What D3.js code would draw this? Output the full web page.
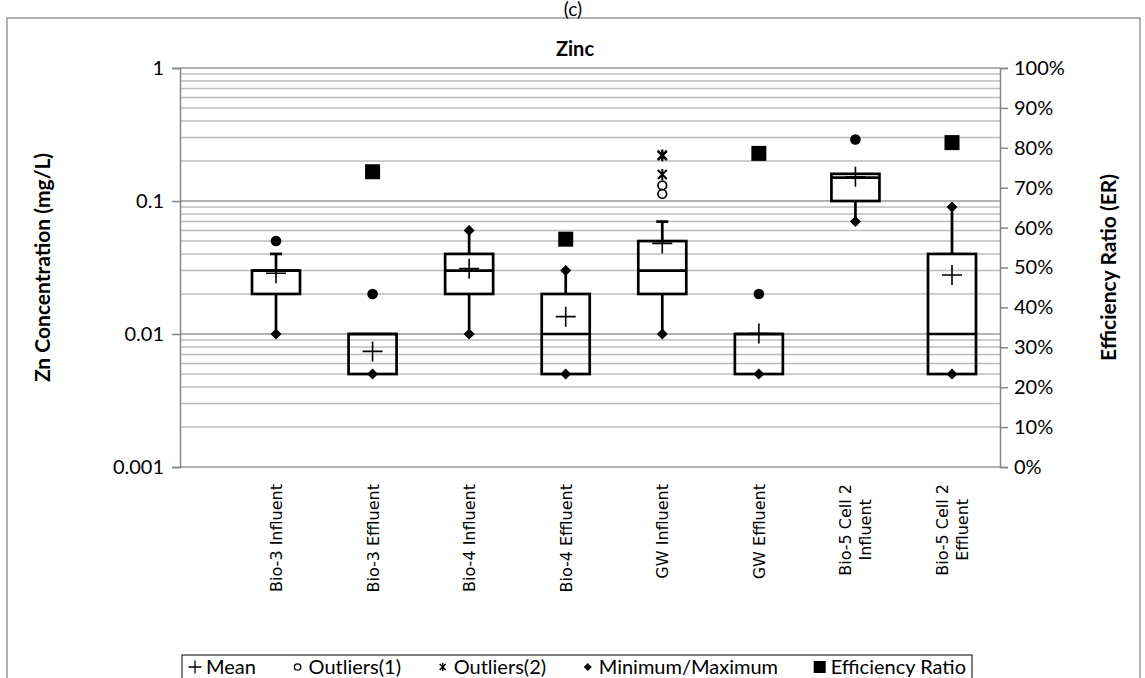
<!DOCTYPE html>
<html>
<head>
<meta charset="utf-8">
<script src="https://cdn.jsdelivr.net/npm/d3@7"></script>
<style>
  html, body { margin: 0; padding: 0; background: #fff; }
  svg { display: block; }
  text { font-family: Lato, "Open Sans", sans-serif; fill: #000; }
</style>
</head>
<body>
<svg id="chart" width="1145" height="678"></svg>
<script>
// ---------- data ----------
const categories = ["Bio-3 Influent", "Bio-3 Effluent", "Bio-4 Influent", "Bio-4 Effluent",
                    "GW Influent", "GW Effluent", "Bio-5 Cell 2 Influent", "Bio-5 Cell 2 Effluent"];
const categoryLines = [["Bio-3 Influent"], ["Bio-3 Effluent"], ["Bio-4 Influent"], ["Bio-4 Effluent"],
                       ["GW Influent"], ["GW Effluent"], ["Bio-5 Cell 2", "Influent"], ["Bio-5 Cell 2", "Effluent"]];
const q1Values      = [0.02, 0.005, 0.02, 0.005, 0.02, 0.005, 0.10, 0.005];
const medianValues  = [0.03, 0.01, 0.03, 0.01, 0.03, 0.01, 0.15, 0.01];
const q3Values      = [0.03, 0.01, 0.04, 0.02, 0.05, 0.01, 0.16, 0.04];
const meanValues    = [0.0286, 0.0074, 0.031, 0.0135, 0.048, 0.0101, 0.152, 0.0278];
const whiskerLow    = [0.01, 0.005, 0.01, 0.005, 0.01, 0.005, 0.07, 0.005];
const whiskerHigh   = [0.04, 0.01, 0.06, 0.03, 0.07, 0.01, 0.16, 0.09];
const capValues     = [[0.04], [], [], [], [0.07], [], [], []];
const minMaxValues  = [[0.01], [0.005], [0.01, 0.06], [0.005, 0.03], [0.01], [0.005], [0.07], [0.005, 0.09]];
const extremeValues = [[0.05], [0.02], [], [], [], [0.02], [0.29], []];   // filled dots
const outliers1     = [[], [], [], [], [0.131, 0.113], [], [], []];
const outliers2     = [[], [], [], [], [0.222, 0.219, 0.158], [], [], []];
const erValues      = [null, 0.74, null, 0.571, null, 0.786, null, 0.813];
const yTickValues   = [0.001, 0.01, 0.1, 1];
const yTickLabels   = ["0.001", "0.01", "0.1", "1"];
const erTickValues  = [0, 0.1, 0.2, 0.3, 0.4, 0.5, 0.6, 0.7, 0.8, 0.9, 1.0];
const legendItems   = ["Mean", "Outliers(1)", "Outliers(2)", "Minimum/Maximum", "Efficiency Ratio"];

// ---------- layout ----------
const svg = d3.select("#chart");
const L = 180, R = 1000, T = 68, B = 467;

const y = d3.scaleLog().domain([0.001, 1]).range([B, T]);
const yER = d3.scaleLinear().domain([0, 1]).range([B, T]);
const x = d3.scalePoint().domain(categories).range([L + 96, R - 48]);

// outer border
svg.append("rect").attr("x", 7).attr("y", 18).attr("width", 1133).attr("height", 700)
  .attr("fill", "none").attr("stroke", "#898989").attr("stroke-width", 1.3);

// (c) label
svg.append("text").attr("x", 573).attr("y", 16).attr("text-anchor", "middle")
  .style("font-size", "19px").text("(c)");

// title
svg.append("text").attr("x", 575).attr("y", 56).attr("text-anchor", "middle")
  .style("font-size", "20px").style("font-weight", "bold").text("Zinc");

// gridlines (log minor & major)
const minorTicks = [];
for (let e = -3; e < 0; e++) for (let m = 2; m <= 9; m++) minorTicks.push(m * Math.pow(10, e));
svg.append("g").selectAll("line.minor").data(minorTicks).join("line")
  .attr("x1", L).attr("x2", R).attr("y1", d => y(d)).attr("y2", d => y(d))
  .attr("stroke", "#bcbcbc").attr("stroke-width", 1.5);
svg.append("g").selectAll("line.major").data(yTickValues).join("line")
  .attr("x1", L).attr("x2", R).attr("y1", d => y(d)).attr("y2", d => y(d))
  .attr("stroke", "#979797").attr("stroke-width", 1.6);

// left axis
const yAxis = d3.axisLeft(y).tickValues(yTickValues).tickFormat((d, i) => yTickLabels[i]).tickSize(8).tickPadding(8);
const gY = svg.append("g").attr("transform", `translate(${L},0)`).call(yAxis);
gY.select(".domain").attr("stroke", "#868686").attr("stroke-width", 1.5);
gY.selectAll(".tick line").attr("stroke", "#868686").attr("stroke-width", 1.5);
gY.selectAll(".tick text").style("font-size", "20px").style("font-family", "Lato");

// right axis
const erAxis = d3.axisRight(yER).tickValues(erTickValues).tickFormat(d3.format(".0%")).tickSize(8).tickPadding(6);
const gR = svg.append("g").attr("transform", `translate(${R},0)`).call(erAxis);
gR.select(".domain").attr("stroke", "#868686").attr("stroke-width", 1.5);
gR.selectAll(".tick line").attr("stroke", "#868686").attr("stroke-width", 1.5);
gR.selectAll(".tick text").style("font-size", "20px").style("font-family", "Lato");

// axis titles
svg.append("text").attr("transform", `translate(50,${(T + B) / 2}) rotate(-90)`)
  .attr("text-anchor", "middle").style("font-size", "21px").style("font-weight", "bold")
  .text("Zn Concentration (mg/L)");
svg.append("text").attr("transform", `translate(1116,${(T + B) / 2}) rotate(-90)`)
  .attr("text-anchor", "middle").style("font-size", "21px").style("font-weight", "bold")
  .text("Efficiency Ratio (ER)");

// category labels
const labelTop = 484;
categories.forEach((c, i) => {
  const lines = categoryLines[i];
  const g = svg.append("g").attr("transform", `translate(${x(c)},0) rotate(-90)`);
  const lh = 20;
  const texts = lines.map((ln, j) => g.append("text")
      .attr("y", (j - (lines.length - 1) / 2) * lh + 6)
      .style("font-family", "DejaVu Sans").style("font-size", "16px").text(ln));
  const maxLen = d3.max(texts, t => t.node().getComputedTextLength());
  texts.forEach(t => {
    if (lines.length === 1) { t.attr("x", -labelTop).attr("text-anchor", "end"); }
    else { t.attr("x", -(labelTop + maxLen / 2)).attr("text-anchor", "middle"); }
  });
});

// ---------- boxes ----------
const boxW = 48, capW = 12;
const plot = svg.append("g");
categories.forEach((c, i) => {
  const cx = x(c);
  if (whiskerHigh[i] > q3Values[i])
    plot.append("line").attr("x1", cx).attr("x2", cx).attr("y1", y(q3Values[i])).attr("y2", y(whiskerHigh[i]))
      .attr("stroke", "#000").attr("stroke-width", 2.7);
  if (whiskerLow[i] < q1Values[i])
    plot.append("line").attr("x1", cx).attr("x2", cx).attr("y1", y(q1Values[i])).attr("y2", y(whiskerLow[i]))
      .attr("stroke", "#000").attr("stroke-width", 2.7);
  capValues[i].forEach(v => plot.append("line").attr("x1", cx - capW / 2).attr("x2", cx + capW / 2)
      .attr("y1", y(v)).attr("y2", y(v)).attr("stroke", "#000").attr("stroke-width", 2.7));
  plot.append("rect").attr("x", cx - boxW / 2).attr("width", boxW)
    .attr("y", y(q3Values[i])).attr("height", y(q1Values[i]) - y(q3Values[i]))
    .attr("fill", "none").attr("stroke", "#000").attr("stroke-width", 2.7);
  plot.append("line").attr("x1", cx - boxW / 2).attr("x2", cx + boxW / 2)
    .attr("y1", y(medianValues[i])).attr("y2", y(medianValues[i])).attr("stroke", "#000").attr("stroke-width", 2.7);
});

// markers
const plus = (g, cx, cy, s, w) => g.append("path")
  .attr("d", `M${cx - s / 2},${cy}H${cx + s / 2}M${cx},${cy - s / 2}V${cy + s / 2}`)
  .attr("stroke", "#000").attr("stroke-width", w).attr("fill", "none");
const diamond = (g, cx, cy, s) => g.append("path")
  .attr("d", `M${cx},${cy - s / 2}L${cx + s / 2},${cy}L${cx},${cy + s / 2}L${cx - s / 2},${cy}Z`).attr("fill", "#000");
const star = (g, cx, cy, s, w) => g.append("path")
  .attr("d", `M${cx - s / 2},${cy - s / 2}L${cx + s / 2},${cy + s / 2}M${cx + s / 2},${cy - s / 2}L${cx - s / 2},${cy + s / 2}M${cx},${cy - s / 2 - 1}V${cy + s / 2 + 1}`)
  .attr("stroke", "#000").attr("stroke-width", w).attr("fill", "none");

categories.forEach((c, i) => {
  const cx = x(c);
  plus(plot, cx, y(meanValues[i]), 20, 1.6);
  minMaxValues[i].forEach(v => diamond(plot, cx, y(v), 11));
  extremeValues[i].forEach(v => plot.append("circle").attr("cx", cx).attr("cy", y(v)).attr("r", 5.3).attr("fill", "#000"));
  outliers1[i].forEach(v => plot.append("circle").attr("cx", cx).attr("cy", y(v)).attr("r", 4.3)
    .attr("fill", "#fff").attr("stroke", "#000").attr("stroke-width", 1.7));
  outliers2[i].forEach(v => star(plot, cx, y(v), 9, 2));
  if (erValues[i] != null)
    plot.append("rect").attr("x", cx - 7.5).attr("y", yER(erValues[i]) - 7.5).attr("width", 15).attr("height", 15).attr("fill", "#000");
});

// ---------- legend ----------
const lg = svg.append("g");
const legX = 182, legY = 655, legW = 790;
lg.append("rect").attr("x", legX).attr("y", legY).attr("width", legW).attr("height", 40)
  .attr("fill", "#fff").attr("stroke", "#000").attr("stroke-width", 1);
const ly = legY + 12;
const widths = [];
const tmp = legendItems.map(t => lg.append("text").style("font-size", "20px").text(t));
tmp.forEach(t => { widths.push(t.node().getComputedTextLength()); t.remove(); });
const markerW = 14, gapM = 4;
const totalW = d3.sum(widths) + legendItems.length * (markerW + gapM);
const gap = (legW - 12 - totalW) / (legendItems.length - 1);
let cur = legX + 6;
legendItems.forEach((t, i) => {
  const mx = cur + markerW / 2;
  if (i === 0) plus(lg, mx, ly, 13, 1.3);
  if (i === 1) lg.append("circle").attr("cx", mx).attr("cy", ly).attr("r", 3.2).attr("fill", "#fff").attr("stroke", "#000").attr("stroke-width", 1.3);
  if (i === 2) star(lg, mx, ly, 6, 1.5);
  if (i === 3) diamond(lg, mx, ly, 8);
  if (i === 4) lg.append("rect").attr("x", mx - 6).attr("y", ly - 6).attr("width", 12).attr("height", 12).attr("fill", "#000");
  lg.append("text").attr("x", cur + markerW + gapM).attr("y", ly + 7).style("font-size", "20px").text(t);
  cur += markerW + gapM + widths[i] + gap;
});
</script>
</body>
</html>
